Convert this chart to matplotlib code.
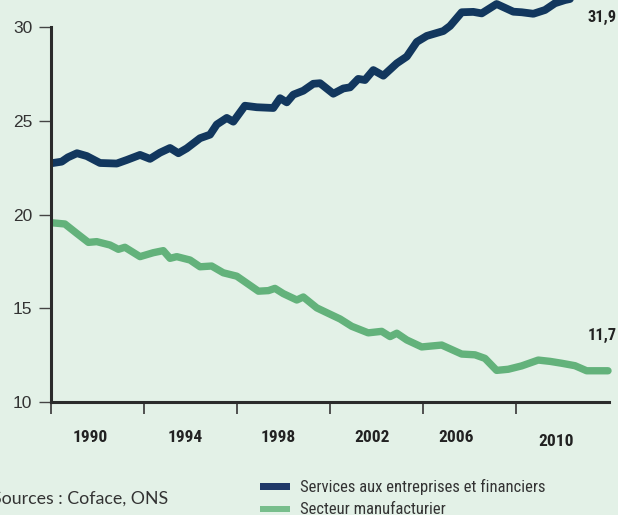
import matplotlib
matplotlib.use("Agg")
import matplotlib.pyplot as plt
from matplotlib.patches import Rectangle
from matplotlib import font_manager

# ---------------- data ----------------
services_years = [1988.0, 1988.47, 1988.74, 1989.13, 1989.55, 1990.12, 1990.84, 1991.27,
                  1991.84, 1992.27, 1992.70, 1993.13, 1993.49, 1993.85, 1994.42, 1994.85,
                  1995.14, 1995.57, 1995.85, 1996.35, 1996.86, 1997.57, 1997.86, 1998.15,
                  1998.43, 1998.86, 1999.29, 1999.58, 2000.15, 2000.58, 2000.87, 2001.22,
                  2001.51, 2001.87, 2002.30, 2002.88, 2003.31, 2003.74, 2004.17, 2004.88,
                  2005.17, 2005.67, 2006.17, 2006.53, 2007.17, 2007.89, 2008.25, 2008.75,
                  2009.25, 2009.68, 2010.11, 2010.75, 2011.40, 2011.96]
services_values = [22.73, 22.82, 23.05, 23.27, 23.12, 22.75, 22.72, 22.91,
                   23.18, 22.97, 23.30, 23.55, 23.27, 23.53, 24.07, 24.26,
                   24.80, 25.15, 24.95, 25.80, 25.72, 25.68, 26.20, 25.98,
                   26.39, 26.60, 26.97, 27.00, 26.44, 26.72, 26.78, 27.23,
                   27.17, 27.70, 27.40, 28.06, 28.42, 29.20, 29.52, 29.78,
                   30.05, 30.78, 30.80, 30.72, 31.22, 30.81, 30.78, 30.70,
                   30.90, 31.26, 31.43, 31.60, 31.75, 31.90]

manuf_years = [1988.0, 1988.61, 1989.12, 1989.62, 1989.98, 1990.55, 1990.91, 1991.19,
               1991.84, 1992.41, 1992.84, 1993.13, 1993.42, 1993.99, 1994.42, 1994.92,
               1995.42, 1996.00, 1996.43, 1996.93, 1997.36, 1997.64, 1998.00, 1998.58,
               1998.86, 1999.44, 1999.93, 2000.44, 2000.94, 2001.65, 2002.23, 2002.59,
               2002.88, 2003.31, 2003.95, 2004.81, 2005.67, 2006.24, 2006.67, 2007.17,
               2007.67, 2008.25, 2008.96, 2009.47, 2009.97, 2010.54, 2011.04, 2011.96]
manuf_values = [19.57, 19.50, 19.00, 18.52, 18.56, 18.38, 18.15, 18.26,
                17.76, 17.97, 18.08, 17.67, 17.76, 17.58, 17.22, 17.26,
                16.90, 16.72, 16.35, 15.92, 15.95, 16.07, 15.79, 15.45,
                15.61, 15.03, 14.74, 14.44, 14.05, 13.70, 13.78, 13.50,
                13.68, 13.32, 12.95, 13.05, 12.57, 12.53, 12.34, 11.70,
                11.76, 11.94, 12.25, 12.18, 12.08, 11.95, 11.68, 11.68]

y_ticks = [10, 15, 20, 25, 30]
x_ticks = [1988, 1992, 1996, 2000, 2004, 2008]
year_labels = ["1990", "1994", "1998", "2002", "2006", "2010"]
services_last = "31,9"
manuf_last = "11,7"
series_names = ["Services aux entreprises et financiers", "Secteur manufacturier"]
source_text = "Sources : Coface, ONS"

# ---------------- style / layout ----------------
W, H = 618, 515
BG = "#e3f1e7"
NAVY = "#12375e"
NAVY_LEG = "#1f3868"
GREEN = "#63b27b"
GREEN_LEG = "#78be8c"
AXIS = "#2b2b2b"
TXT = "#333333"

avail = {f.name for f in font_manager.fontManager.ttflist}


def pick(*names):
    for n in names:
        if n in avail:
            return [n, "DejaVu Sans"]
    return ["DejaVu Sans"]


NARROW = pick("Roboto Condensed", "Archivo Narrow", "Barlow Semi Condensed", "Liberation Sans")
NARROW_B = pick("Roboto Condensed", "Barlow Semi Condensed", "Liberation Sans")
SRC = pick("Lato", "Open Sans")
REG = pick("Liberation Sans", "Arial")

fig = plt.figure(figsize=(W / 100, H / 100), dpi=100, facecolor=BG)


def fx(px):
    return px / W


def fy(py):
    return 1 - py / H


ax_left_px = 50.7
px_per_year = 23.26
px_per_unit = 18.77
ax_bottom_px = 402.3
xlim = (1988, 2012.3)
ylim = (10, 32)
ax_w = (xlim[1] - xlim[0]) * px_per_year
ax_h = (ylim[1] - ylim[0]) * px_per_unit
ax = fig.add_axes([fx(ax_left_px), fy(ax_bottom_px), ax_w / W, ax_h / H])
ax.set_facecolor(BG)
ax.set_xlim(*xlim)
ax.set_ylim(*ylim)

ax.plot(services_years, services_values, color=NAVY, lw=5.6,
        solid_capstyle="round", solid_joinstyle="round", zorder=3)
ax.plot(manuf_years, manuf_values, color=GREEN, lw=5.3,
        solid_capstyle="round", solid_joinstyle="round", zorder=3)

for s in ["top", "right"]:
    ax.spines[s].set_visible(False)
ax.spines["left"].set_bounds(10, 30)
ax.spines["bottom"].set_bounds(1988, 2012)
for s in ["left", "bottom"]:
    ax.spines[s].set_color(AXIS)
    ax.spines[s].set_linewidth(2.2)
    ax.spines[s].set_zorder(4)

ax.set_yticks(y_ticks)
ax.set_yticklabels([str(v) for v in y_ticks], family=REG)
ax.tick_params(axis="y", length=8.3, width=1.0, color="#444444", pad=5,
               labelsize=12.5, labelcolor=TXT)
ax.set_xticks(x_ticks)
ax.tick_params(axis="x", length=8.5, width=1.3, color="#444444", labelbottom=False)

label_pos = [1989.72, 1993.77, 1997.79, 2001.82, 2005.45, 2009.72]
label_dy = [-34.7, -34.7, -34.7, -34.7, -34.7, -39.0]
for x, t, dy in zip(label_pos, year_labels, label_dy):
    ax.annotate(t, xy=(x, 0), xycoords=("data", "axes fraction"),
                xytext=(0, dy * 0.72), textcoords="offset points",
                ha="center", va="center", fontsize=12.5, fontweight="bold",
                family=NARROW_B, color="#222222", annotation_clip=False)

fig.text(fx(588), fy(17), services_last, ha="left", va="center", fontsize=11.8,
         fontweight="bold", family=NARROW_B, color="#222222")
fig.text(fx(588), fy(335), manuf_last, ha="left", va="center", fontsize=11.8,
         fontweight="bold", family=NARROW_B, color="#222222")

# legend (drawn manually)
for (yc, col, name) in [(486.7, NAVY_LEG, series_names[0]), (509.0, GREEN_LEG, series_names[1])]:
    fig.add_artist(Rectangle((fx(260), fy(yc + 3.4)), 30 / W, 6.8 / H,
                             transform=fig.transFigure, color=col, lw=0))
    fig.text(fx(299.5), fy(yc), name, ha="left", va="center", fontsize=12,
             family=NARROW, color=TXT)

fig.text(fx(168), fy(499), source_text, ha="right", va="center", fontsize=12.8,
         family=SRC, color=TXT)

fig.savefig("out.png", dpi=100, facecolor=BG)
